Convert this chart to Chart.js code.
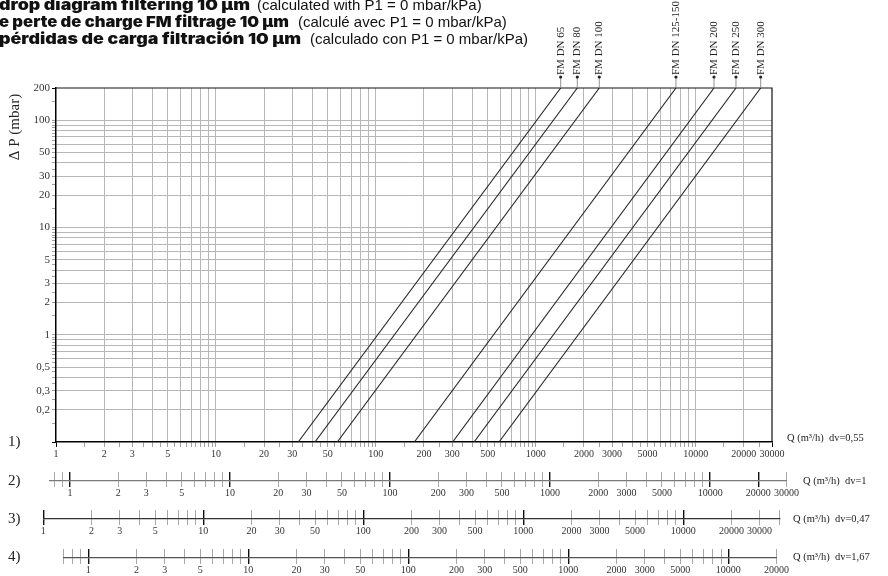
<!DOCTYPE html>
<html lang="en">
<head>
<meta charset="utf-8">
<title>Pressure drop diagram filtering 10 µm</title>
<script src="https://cdn.jsdelivr.net/npm/chart.js@4.4.1/dist/chart.umd.min.js"></script>
<style>
  html, body { margin: 0; padding: 0; background: #fff; }
  #wrap { position: relative; width: 888px; height: 576px; overflow: hidden; }
  #wrap canvas { position: absolute; left: 0; top: 0; }
</style>
</head>
<body>
<div id="wrap">
  <canvas id="mainChart" width="888" height="576"></canvas>
  <canvas id="flow2" width="888" height="30"></canvas>
  <canvas id="flow3" width="888" height="30"></canvas>
  <canvas id="flow4" width="888" height="30"></canvas>
</div>
<script>
// --- Data ---
const dnLabels = ['FM DN 65', 'FM DN 80', 'FM DN 100', 'FM DN 125-150', 'FM DN 200', 'FM DN 250', 'FM DN 300'];
// flow Q (m³/h) where each curve leaves the bottom (0.1 mbar) and top (200 mbar) of the grid
const qAtMin = [32.7, 41.6, 57.4, 174, 302, 411, 589];
const qAtMax = [1431, 1818, 2495, 7527, 13015, 17860, 25490];
const dpMin = 0.1;
const dpMax = 200;
const qMin = 1;
const qMax = 30000;

const yTickLabels = [200, 100, 50, 30, 20, 10, 5, 3, 2, 1, 0.5, 0.3, 0.2];
const xTickLabels = [1, 2, 3, 5, 10, 20, 30, 50, 100, 200, 300, 500, 1000, 2000, 3000, 5000, 10000, 20000, 30000];

// extra flow scales 2) 3) 4) for other viscosities
const flowMin = [0.75, 1, 0.7];
const flowMax = [30000, 40000, 20000];
const flowMajor = [
    [1, 10, 100, 1000, 10000, 20000],
    [1, 10, 100, 1000, 10000],
    [1, 10, 100, 1000, 10000]
];
const flowLabels = [xTickLabels, xTickLabels, xTickLabels.slice(0, -1)];

const rowNames = ['1)', '2)', '3)', '4)'];
const rowDv = ['0,55', '1', '0,47', '1,67'];

const titleBold = ['drop diagram filtering 10 µm', 'e perte de charge FM filtrage 10 µm', 'pérdidas de carga filtración 10 µm'];
const titleNote = ['(calculated with P1 = 0 mbar/kPa)', '(calculé avec P1 = 0 mbar/kPa)', '(calculado con P1 = 0 mbar/kPa)'];

// --- Layout ---
const W = 888, H = 576;
const AREA = { left: 56, right: 772, top: 88, bottom: 442 };
const ROW_Y = [442, 481, 519, 557.5];
const ROW_SPAN = [[50, 786.5], [43.3, 779.6], [63.5, 776.5]];
const ROW_AXIS_COLOR = ['#7a7a7a', '#333', '#555'];
const ROW_NOTE_X = [787, 803, 793, 793];
const TITLE_BASE = [10, 27.3, 44.3];
const TITLE_BOLD_W = [251, 290, 302];
const TITLE_NOTE_X = [257, 298, 310];

const SERIF = "'Liberation Serif', 'DejaVu Serif', serif";
const SANS = "'Liberation Sans', Arial, sans-serif";
const GRID = '#b7b7b7';

// --- Helpers ---
const WHOLE = [1, 2, 3, 4, 5, 6, 7, 8, 9];
const HALF = [1.5, 2.5, 3.5, 4.5, 5.5, 6.5, 7.5, 8.5, 9.5];

function logSteps(min, max, steps) {
    const out = [];
    for (let e = Math.floor(Math.log10(min)); e <= Math.ceil(Math.log10(max)); e++) {
        steps.forEach(s => {
            const v = +(s * Math.pow(10, e)).toPrecision(6);
            if (v >= min - 1e-9 && v <= max + 1e-9) out.push(v);
        });
    }
    return out;
}

const fmt = v => String(v).replace('.', ',');

const xWhole = logSteps(qMin, qMax, WHOLE);
const xHalf = logSteps(qMin, qMax, HALF);
const yWhole = logSteps(dpMin, dpMax, WHOLE);
const yHalf = logSteps(dpMin, dpMax, HALF);
const xTicks = xWhole.concat(xHalf).sort((a, b) => a - b);
const yTicks = yWhole.concat(yHalf).sort((a, b) => a - b);

function tickValue(c) {
    return c && c.tick ? c.tick.value : null;
}

// --- Texts, labels and frame ---
const diagramText = {
    id: 'diagramText',
    afterDraw(chart) {
        const ctx = chart.ctx;
        const area = chart.chartArea;
        const xs = chart.scales.x;
        ctx.save();

        // top and right frame
        ctx.strokeStyle = '#111';
        ctx.lineWidth = 1.2;
        ctx.beginPath();
        ctx.moveTo(area.left, area.top);
        ctx.lineTo(area.right, area.top);
        ctx.lineTo(area.right, area.bottom);
        ctx.stroke();

        // curve names with leader
        dnLabels.forEach((name, i) => {
            const px = xs.getPixelForValue(qAtMax[i]);
            ctx.strokeStyle = '#777';
            ctx.lineWidth = 0.8;
            ctx.beginPath();
            ctx.moveTo(px, area.top);
            ctx.lineTo(px, 77);
            ctx.stroke();
            ctx.fillStyle = '#222';
            ctx.beginPath();
            ctx.arc(px, 77, 1.6, 0, Math.PI * 2);
            ctx.fill();
            ctx.save();
            ctx.translate(px, 75);
            ctx.rotate(-Math.PI / 2);
            ctx.font = '11px ' + SERIF;
            ctx.textAlign = 'left';
            ctx.textBaseline = 'middle';
            ctx.fillText(name, 0, 0);
            ctx.restore();
        });

        // three-language title
        ctx.fillStyle = '#111';
        ctx.textAlign = 'left';
        ctx.textBaseline = 'alphabetic';
        titleBold.forEach((t, i) => {
            ctx.font = '900 15px Inter, ' + SANS;
            const w = ctx.measureText(t).width;
            ctx.save();
            ctx.translate(-1, TITLE_BASE[i]);
            ctx.scale(TITLE_BOLD_W[i] / w, 1);
            ctx.fillText(t, 0, 0);
            ctx.restore();
            ctx.font = '15px ' + SANS;
            ctx.fillText(titleNote[i], TITLE_NOTE_X[i], TITLE_BASE[i]);
        });

        // y axis title
        ctx.save();
        ctx.translate(15, 127);
        ctx.rotate(-Math.PI / 2);
        ctx.font = '15px ' + SERIF;
        ctx.textAlign = 'center';
        ctx.textBaseline = 'middle';
        ctx.fillStyle = '#222';
        ctx.fillText('\u0394 P (mbar)', 0, 0);
        ctx.restore();

        // row numbers and flow notes
        ctx.fillStyle = '#222';
        ctx.textBaseline = 'middle';
        rowNames.forEach((r, i) => {
            ctx.font = '15px ' + SERIF;
            ctx.textAlign = 'left';
            ctx.fillText(r, 8, ROW_Y[i]);
            ctx.font = '10.5px ' + SERIF;
            ctx.fillText('Q (m\u00b3/h)  dv=' + rowDv[i], ROW_NOTE_X[i], ROW_Y[i] - (i === 0 ? 4 : 0));
        });
        ctx.restore();
    }
};

// --- Main chart ---
const mainChart = new Chart(document.getElementById('mainChart'), {
    type: 'line',
    data: {
        datasets: dnLabels.map((name, i) => ({
            label: name,
            data: [{ x: qAtMin[i], y: dpMin }, { x: qAtMax[i], y: dpMax }],
            borderColor: '#262626',
            borderWidth: 1.1,
            pointRadius: 0,
            fill: false,
            tension: 0
        }))
    },
    options: {
        responsive: false,
        animation: false,
        devicePixelRatio: 1,
        layout: { padding: { left: 0, right: W - AREA.right, top: AREA.top, bottom: H - AREA.bottom - 20 } },
        plugins: { legend: { display: false }, tooltip: { enabled: false } },
        scales: {
            x: {
                type: 'logarithmic',
                min: qMin,
                max: qMax,
                afterBuildTicks: s => { s.ticks = xTicks.map(v => ({ value: v })); },
                afterFit: s => { s.height = 20; },
                border: { color: '#000', width: 1.5 },
                grid: {
                    color: c => {
                        const v = tickValue(c);
                        return v !== qMin && v !== qMax && xWhole.includes(v) ? GRID : 'rgba(0,0,0,0)';
                    },
                    tickColor: c => {
                        const v = tickValue(c);
                        return v === qMin || v === qMax ? '#000' : '#a0a0a0';
                    },
                    lineWidth: 1,
                    tickLength: 5
                },
                ticks: {
                    autoSkip: false,
                    maxRotation: 0,
                    minRotation: 0,
                    padding: 1,
                    color: '#333',
                    font: { family: SERIF, size: 10 },
                    callback: v => xTickLabels.includes(v) ? fmt(v) : ''
                }
            },
            y: {
                type: 'logarithmic',
                min: dpMin,
                max: dpMax,
                afterBuildTicks: s => { s.ticks = yTicks.map(v => ({ value: v })); },
                afterFit: s => { s.width = AREA.left; },
                border: { color: '#000', width: 1.5 },
                grid: {
                    color: c => {
                        const v = tickValue(c);
                        return v !== dpMin && v !== dpMax && yWhole.includes(v) ? GRID : 'rgba(0,0,0,0)';
                    },
                    tickColor: c => {
                        const v = tickValue(c);
                        return v === dpMin || v === dpMax ? '#000' : '#a0a0a0';
                    },
                    lineWidth: 1,
                    tickLength: 4
                },
                ticks: {
                    autoSkip: false,
                    padding: 2,
                    color: '#333',
                    font: { family: SERIF, size: 11 },
                    callback: v => yTickLabels.includes(v) ? fmt(v) : ''
                }
            }
        }
    },
    plugins: [diagramText]
});

// --- Extra flow scales ---
function makeFlowAxis(id, i) {
    const canvas = document.getElementById(id);
    canvas.style.top = (ROW_Y[i + 1] - 10) + 'px';
    const [x0, x1] = ROW_SPAN[i];
    const ticks = logSteps(flowMin[i], flowMax[i], WHOLE);
    const isMajor = c => flowMajor[i].includes(tickValue(c));
    return new Chart(canvas, {
        type: 'line',
        data: { datasets: [] },
        options: {
            responsive: false,
            animation: false,
            devicePixelRatio: 1,
            layout: { padding: { left: x0, right: W - x1, top: 1, bottom: 0 } },
            plugins: { legend: { display: false }, tooltip: { enabled: false } },
            scales: {
                x: {
                    type: 'logarithmic',
                    min: flowMin[i],
                    max: flowMax[i],
                    afterBuildTicks: s => { s.ticks = ticks.map(v => ({ value: v })); },
                    afterFit: s => { s.height = 20; },
                    border: { color: ROW_AXIS_COLOR[i], width: 1.2 },
                    grid: {
                        drawOnChartArea: true,
                        color: c => isMajor(c) ? '#111' : '#a8a8a8',
                        tickColor: c => isMajor(c) ? '#111' : '#a8a8a8',
                        lineWidth: c => isMajor(c) ? 1.4 : 1,
                        tickWidth: c => isMajor(c) ? 1.4 : 1,
                        tickLength: 6
                    },
                    ticks: {
                        autoSkip: false,
                        maxRotation: 0,
                        minRotation: 0,
                        padding: 0,
                        color: '#333',
                        font: { family: SERIF, size: 10 },
                        callback: v => flowLabels[i].includes(v) ? fmt(v) : ''
                    }
                },
                y: { display: false }
            }
        }
    });
}

const flowCharts = ['flow2', 'flow3', 'flow4'].map((id, i) => makeFlowAxis(id, i));
</script>
</body>
</html>
